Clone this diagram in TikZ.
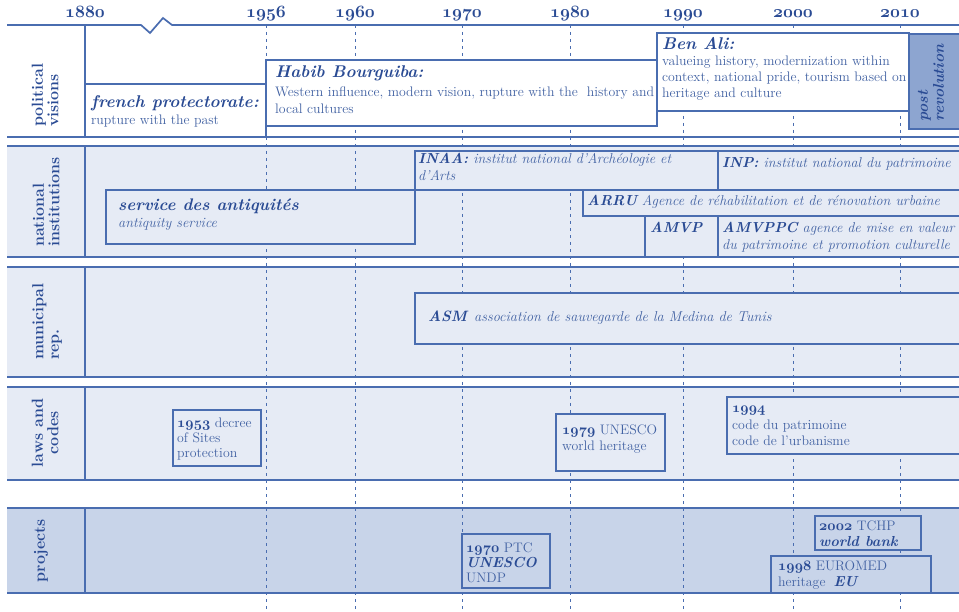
\documentclass[tikz,border=0pt]{standalone}
\definecolor{linecol}{HTML}{4A6DB0}
\definecolor{ink}{HTML}{2A4B94}
\definecolor{txtcol}{HTML}{4262A3}
\definecolor{bandfill}{HTML}{E6EBF5}
\definecolor{projfill}{HTML}{C8D4E9}
\definecolor{postfill}{HTML}{8DA5D0}
\newcommand\bodyfont{\fontsize{13.8}{16}\selectfont}
\newcommand\headfont{\fontsize{17}{18}\selectfont\bfseries\itshape}
\newcommand\hd[1]{{\color{ink}\fontsize{14.5}{16}\selectfont\bfseries\itshape #1}}
\newcommand\acr[1]{{\color{ink}\fontsize{14.5}{16}\selectfont\bfseries #1}}
% bold old-style figures
\newcommand\yr[1]{{\usefont{OML}{cmm}{b}{it}#1}}
\newcommand\yb[1]{{\color{ink}\fontsize{13.5}{16}\usefont{OML}{cmm}{b}{it}#1}}
\begin{document}
\begin{tikzpicture}[x=1pt,y=-1pt,
  bandrule/.style={draw=linecol,line width=1.7pt},
  yearline/.style={draw=linecol,line width=0.9pt,dash pattern=on 3pt off 4pt},
  era/.style={bandrule,fill=white},
  inst/.style={bandrule,fill=bandfill},
  proj/.style={bandrule,fill=projfill},
  ln/.style={anchor=base west,inner sep=0pt,text=txtcol,font=\bodyfont},
  itl/.style={ln,font=\fontsize{14.2}{16}\selectfont\itshape},
  hl/.style={ln,text=ink,font=\headfont},
  yearlbl/.style={anchor=base,inner sep=0pt,text=ink,font=\fontsize{16.5}{16}\selectfont},
  rowlbl/.style={rotate=90,anchor=west,inner sep=0pt,text=ink,font=\fontsize{16}{15.5}\selectfont\bfseries}
]
\useasboundingbox (0,0) rectangle (959,612);
\fill[white] (0,0) rectangle (959,612);

% band backgrounds
\fill[bandfill] (7,146) rectangle (959,257);
\fill[bandfill] (7,267) rectangle (959,377);
\fill[bandfill] (7,387) rectangle (959,480);
\fill[projfill] (7,508) rectangle (959,593);

% year guides
\foreach \x in {266,355,462,570,683,793,900}
  \draw[yearline] (\x,25) -- (\x,612);

% time axis with the break, band borders
\draw[bandrule] (7,25) -- (141,25) -- (150,33) -- (163,18) -- (172,25) -- (959,25);
\draw[bandrule] (7,137) -- (959,137) (85,25) -- (85,137);
\foreach \t/\b in {146/257,267/377,387/480,508/593}
  \draw[bandrule] (7,\t) -- (959,\t) (7,\b) -- (959,\b) (85,\t) -- (85,\b);

% year labels
\foreach \x/\y in {85/1880,266/1956,355/1960,462/1970,570/1980,683/1990,793/2000,900/2010}
  \node[yearlbl] (y\y) at (\x,18) {\yr{\y}};

% row labels
\node[rowlbl,align=left] (lpol) at (45,127) {political\\visions};
\node[rowlbl,align=left] (lnat) at (46,247) {national\\institutions};
\node[rowlbl,align=left] (lmun) at (47,360) {municipal\\rep.};
\node[rowlbl,align=center,anchor=center] (llaw) at (45,433) {laws and\\codes};
\node[rowlbl,anchor=center] (lprj) at (41,551) {projects};

% political visions
\path[era] (85,84) rectangle (266,137);
\path[era] (266,60) rectangle (657,126);
\path[era] (657,33) rectangle (909,111);
\path[bandrule,fill=postfill] (909,34) rectangle (966,129);
\node[hl] (fp1) at (91,108) {french protectorate:};
\node[ln] (fp2) at (91,125) {rupture with the past};
\node[hl] (hb1) at (275,78) {Habib Bourguiba:};
\node[ln] (hb2) at (275,97) {Western influence, modern vision, rupture with the\ \ history and};
\node[ln] (hb3) at (275,114) {local cultures};
\node[hl] (ba1) at (662,50) {Ben Ali:};
\node[ln] (ba2) at (662,66) {valueing history, modernization within};
\node[ln] (ba3) at (662,82) {context, national pride, tourism based on};
\node[ln] (ba4) at (662,98) {heritage and culture};
\node[rowlbl,align=left,font=\fontsize{15.5}{16}\selectfont\bfseries\itshape] (post) at (931,122) {post\\revolution};

% national institutions
\path[inst] (106,190) rectangle (415,244);
\path[inst] (415,151) rectangle (718,190);
\path[inst] (718,151) rectangle (966,190);
\path[inst] (583,190) rectangle (966,216);
\path[inst] (645,216) rectangle (718,257);
\path[inst] (718,216) rectangle (966,257);
\node[hl,font=\fontsize{16.8}{18}\selectfont\bfseries\itshape] (sda1) at (118,211) {service des antiquités};
\node[itl] (sda2) at (118,228) {antiquity service};
\node[itl] (inaa1) at (418,164) {\acr{INAA:} institut national d'Archéologie et};
\node[itl] (inaa2) at (418,181) {d'Arts};
\node[itl] (inp) at (722,168) {\acr{INP:} institut national du patrimoine};
\node[itl] (arru) at (587,206) {\acr{ARRU} Agence de réhabilitation et de rénovation urbaine};
\node[itl] (amvp) at (650,233) {\acr{AMVP}};
\node[itl] (amv1) at (722,233) {\acr{AMVPPC} agence de mise en valeur};
\node[itl] (amv2) at (722,250) {du patrimoine et promotion culturelle};

% municipal representation
\path[inst] (415,293) rectangle (966,344);
\node[hl,font=\fontsize{15}{16}\selectfont\bfseries\itshape] (asm1) at (428,322) {ASM};
\node[itl,font=\fontsize{14.3}{16}\selectfont\itshape] (asm2) at (474,322) {association de sauvegarde de la Medina de Tunis};

% laws and codes
\path[inst] (173,410) rectangle (261,466);
\path[inst] (556,414) rectangle (665,471);
\path[inst] (727,397) rectangle (966,454);
\node[ln] (d53a) at (177,427) {\yb{1953} decree};
\node[ln] (d53b) at (177,442) {of Sites};
\node[ln] (d53c) at (177,457) {protection};
\node[ln] (u79a) at (562,435) {\yb{1979} UNESCO};
\node[ln] (u79b) at (562,450) {world heritage};
\node[ln] (c94a) at (732,413) {\yb{1994}};
\node[ln] (c94b) at (732,429) {code du patrimoine};
\node[ln] (c94c) at (732,445) {code de l'urbanisme};

% projects
\path[proj] (462,534) rectangle (550,588);
\path[proj] (815,516) rectangle (921,550);
\path[proj] (771,556) rectangle (931,593);
\node[ln] (p70a) at (466,552) {\yb{1970} PTC};
\node[ln] (p70b) at (466,567) {\hd{UNESCO}};
\node[ln] (p70c) at (466,582) {UNDP};
\node[ln] (p02a) at (819,530) {\yb{2002} TCHP};
\node[ln] (p02b) at (819,546) {\hd{world bank}};
\node[ln] (p98a) at (778,570) {\yb{1998} EUROMED};
\node[ln] (p98b) at (778,586) {heritage\hspace{8pt}\hd{EU}};
\end{tikzpicture}
\end{document}
